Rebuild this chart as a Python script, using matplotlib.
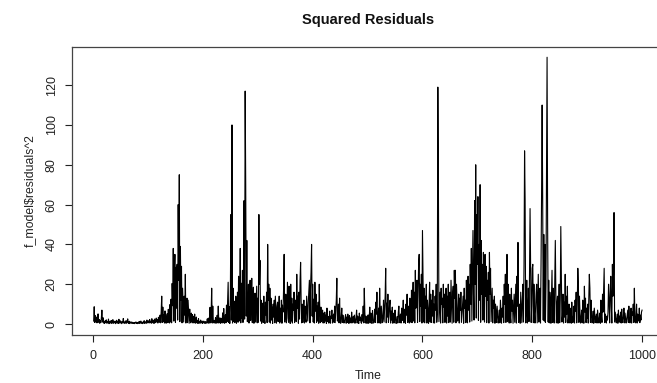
import numpy as np
import matplotlib
matplotlib.use("Agg")
import matplotlib.pyplot as plt

plt.rcParams['font.family'] = ['Liberation Sans', 'DejaVu Sans']

# squared residuals, t = 1..1000, in blocks of 200
sq_001_200 = [
    1.5, 8.7, 0.8, 4.2, 1.1, 3.5, 0.6, 1.2, 5.1, 0.9, 2.3, 0.4, 1.8, 0.7, 2.9, 7.0, 1.0, 3.2, 0.5, 1.4,
    0.3, 1.6, 0.8, 2.1, 0.4, 1.1, 0.6, 2.5, 0.2, 0.9, 1.4, 0.5, 1.8, 0.3, 0.7, 2.2, 0.4, 1.0, 0.6, 1.5,
    0.2, 0.8, 1.9, 0.5, 1.2, 0.3, 2.4, 0.7, 0.4, 1.6, 0.9, 0.2, 1.3, 0.6, 2.8, 0.5, 1.1, 0.3, 0.8, 1.7,
    0.4, 1.0, 2.6, 0.6, 0.3, 1.4, 0.2, 0.7, 1.2, 0.5, 0.3, 0.9, 0.4, 0.6, 0.2, 0.8, 0.5, 1.1, 0.3, 0.6,
    0.2, 0.9, 0.4, 1.3, 0.3, 0.6, 1.5, 0.4, 0.8, 0.2, 1.1, 0.5, 1.7, 0.3, 0.7, 1.2, 0.4, 2.0, 0.6, 0.9,
    1.6, 0.5, 2.3, 0.8, 1.4, 0.4, 2.7, 1.0, 0.6, 1.9, 0.3, 2.5, 1.2, 0.7, 3.0, 1.1, 2.2, 0.5, 3.4, 1.8,
    0.9, 4.5, 0.6, 6.2, 14.0, 0.8, 8.5, 1.2, 4.8, 0.5, 6.6, 1.5, 0.4, 3.8, 5.2, 0.7, 7.4, 1.6, 0.5, 9.8,
    1.0, 12.5, 0.6, 20.4, 9.2, 38.0, 1.5, 25.0, 35.0, 0.8, 28.5, 8.0, 30.0, 2.0, 60.0, 22.0, 75.0, 1.2, 39.0, 12.0,
    29.0, 0.6, 18.0, 9.0, 1.0, 14.0, 4.5, 25.0, 0.5, 8.2, 13.0, 0.7, 12.0, 6.0, 0.4, 7.5, 2.0, 0.6, 5.5, 1.2,
    4.8, 0.5, 3.9, 0.8, 5.0, 0.4, 1.0, 3.5, 0.6, 1.8, 0.3, 2.7, 0.5, 1.3, 0.4, 2.0, 0.7, 1.1, 0.3, 1.5,
]
sq_201_400 = [
    0.6, 1.4, 0.5, 0.3, 1.2, 0.4, 0.8, 2.6, 0.5, 3.0, 0.4, 1.3, 8.4, 0.6, 5.1, 18.0, 0.5, 9.0, 1.2, 0.6,
    1.8, 0.5, 3.2, 0.4, 1.2, 4.4, 0.6, 9.0, 0.5, 1.6, 3.1, 0.4, 2.9, 1.1, 0.5, 5.6, 0.8, 7.8, 0.4, 1.4,
    4.7, 0.6, 9.5, 1.2, 12.0, 21.0, 0.8, 8.8, 0.3, 14.0, 55.0, 2.0, 100.0, 0.5, 18.0, 1.4, 11.5, 0.7, 2.5, 14.0,
    0.4, 5.0, 16.0, 0.9, 24.0, 1.5, 8.0, 38.0, 0.6, 20.5, 3.0, 27.0, 0.8, 18.0, 62.0, 2.5, 117.0, 70.0, 4.0, 42.0,
    1.2, 8.0, 20.0, 0.5, 12.5, 22.0, 1.8, 9.5, 23.0, 0.7, 14.0, 18.5, 0.4, 11.0, 15.5, 1.0, 10.0, 19.0, 0.6, 13.0,
    0.9, 55.0, 20.0, 32.0, 1.5, 12.0, 0.4, 9.0, 10.5, 0.8, 14.0, 2.5, 0.3, 11.0, 4.5, 16.0, 0.7, 40.0, 12.0, 20.0,
    1.0, 18.0, 0.5, 13.0, 2.0, 8.5, 0.3, 10.0, 3.5, 12.0, 0.6, 14.0, 7.0, 0.4, 9.0, 11.0, 1.2, 6.5, 14.0, 0.5,
    8.0, 1.5, 12.0, 0.4, 9.5, 6.0, 18.0, 35.0, 1.0, 4.0, 15.0, 0.6, 3.0, 21.0, 11.0, 0.8, 19.0, 8.5, 0.3, 20.0,
    1.5, 13.0, 0.5, 10.0, 7.0, 16.0, 0.7, 9.0, 12.0, 1.2, 25.0, 8.0, 14.0, 0.4, 16.0, 2.5, 22.0, 31.0, 11.0, 0.6,
    10.0, 0.8, 7.5, 12.0, 0.5, 9.0, 2.5, 0.9, 14.0, 8.0, 1.5, 11.0, 16.0, 22.0, 0.6, 18.0, 26.0, 40.0, 4.0, 20.0,
]
sq_401_600 = [
    1.0, 12.5, 0.5, 21.0, 6.5, 15.0, 0.8, 9.0, 1.5, 11.0, 0.4, 20.0, 6.0, 0.7, 8.5, 1.2, 3.5, 7.0, 0.5, 5.5,
    0.6, 6.0, 1.5, 4.5, 0.3, 8.0, 1.2, 3.8, 0.5, 2.0, 6.5, 0.4, 4.0, 2.8, 7.0, 0.5, 3.2, 5.0, 0.8, 9.0,
    0.7, 6.5, 12.0, 23.0, 1.5, 3.0, 10.0, 0.6, 13.0, 2.5, 0.4, 3.5, 8.0, 0.8, 4.5, 2.2, 0.5, 1.5, 3.0, 4.8,
    0.4, 3.5, 0.8, 5.0, 1.5, 0.3, 4.2, 1.0, 3.0, 0.5, 6.0, 1.4, 0.6, 3.8, 1.0, 4.5, 0.4, 1.6, 3.2, 7.0,
    0.5, 4.0, 1.2, 0.3, 5.5, 1.8, 3.5, 0.8, 0.4, 4.8, 1.5, 9.0, 0.6, 18.0, 6.0, 0.5, 4.0, 1.5, 0.3, 2.8,
    4.6, 0.4, 3.2, 8.5, 0.6, 5.5, 1.4, 0.3, 6.8, 2.2, 0.5, 1.6, 7.5, 0.8, 11.0, 5.0, 16.0, 0.6, 2.0, 8.0,
    0.5, 18.0, 6.0, 0.4, 9.0, 4.5, 0.7, 3.0, 12.0, 1.0, 8.0, 14.0, 28.0, 0.6, 10.5, 3.5, 15.0, 0.8, 4.0, 9.5,
    12.0, 0.5, 6.5, 2.0, 8.5, 0.4, 1.8, 5.5, 0.6, 7.0, 2.4, 0.3, 1.6, 3.8, 0.5, 6.0, 9.0, 0.7, 2.6, 5.0,
    0.5, 8.0, 1.8, 4.5, 12.0, 0.6, 3.0, 7.5, 0.4, 10.0, 4.5, 15.0, 0.8, 3.5, 9.0, 0.5, 13.0, 8.0, 0.9, 17.0,
    0.7, 12.0, 21.0, 1.5, 16.0, 0.6, 27.0, 8.0, 18.0, 22.0, 0.8, 14.0, 30.0, 35.0, 1.2, 20.0, 9.0, 25.0, 0.5, 47.0,
]
sq_601_800 = [
    25.0, 1.0, 18.0, 0.6, 14.0, 8.0, 20.0, 0.5, 12.0, 7.0, 0.4, 9.5, 21.0, 1.0, 15.0, 0.8, 12.0, 4.0, 17.0, 0.6,
    10.0, 0.5, 14.0, 7.0, 20.0, 0.9, 5.0, 119.0, 72.0, 1.2, 8.0, 16.0, 0.5, 18.0, 10.0, 13.0, 0.6, 20.0, 8.5, 15.0,
    0.8, 11.0, 18.0, 0.5, 14.0, 4.0, 20.0, 0.7, 12.0, 16.0, 1.0, 22.0, 10.0, 0.4, 15.0, 19.0, 0.9, 27.0, 13.0, 27.0,
    0.6, 20.0, 11.0, 1.5, 4.0, 15.0, 0.5, 13.0, 7.0, 16.0, 0.8, 5.0, 10.0, 14.0, 0.4, 18.0, 8.0, 12.0, 0.7, 22.0,
    9.0, 0.6, 24.0, 7.0, 20.0, 1.0, 30.0, 10.0, 38.0, 1.5, 26.0, 47.0, 15.0, 2.0, 62.0, 20.0, 80.0, 3.0, 55.0, 30.0,
    64.0, 1.8, 40.0, 12.0, 70.0, 0.9, 42.0, 15.0, 30.0, 2.0, 36.0, 10.0, 1.0, 35.0, 14.0, 29.0, 0.7, 22.0, 12.0, 26.0,
    0.5, 36.0, 15.0, 28.0, 1.2, 9.0, 18.0, 0.6, 12.0, 8.0, 14.0, 0.4, 10.0, 6.0, 0.8, 9.0, 5.0, 0.5, 2.5, 7.0,
    0.6, 12.0, 6.0, 0.4, 8.0, 3.5, 14.0, 0.7, 20.0, 10.0, 25.0, 0.8, 16.0, 35.0, 1.2, 20.0, 6.0, 0.5, 15.0, 4.0,
    0.6, 18.0, 6.5, 12.0, 0.4, 8.0, 15.0, 0.9, 11.0, 20.0, 0.5, 24.0, 9.0, 41.0, 0.8, 6.0, 10.0, 0.4, 16.0, 8.0,
    0.7, 12.0, 20.0, 1.0, 30.0, 87.0, 62.0, 0.6, 8.0, 22.0, 0.5, 6.0, 18.0, 1.2, 25.0, 58.0, 30.0, 0.8, 9.0, 28.0,
]
sq_801_1000 = [
    30.0, 0.7, 20.0, 5.0, 0.5, 8.0, 15.0, 20.0, 0.6, 12.0, 25.0, 1.0, 14.0, 18.0, 0.5, 30.0, 66.0, 110.0, 62.0, 2.0,
    45.0, 1.5, 40.0, 0.8, 20.0, 72.0, 134.0, 50.0, 1.0, 22.0, 0.6, 16.0, 10.0, 0.4, 14.0, 27.0, 0.8, 18.0, 6.0, 0.5,
    20.0, 42.0, 15.0, 0.6, 10.0, 14.0, 0.4, 9.0, 20.0, 0.7, 12.0, 49.0, 27.0, 1.0, 4.0, 15.0, 0.5, 11.0, 3.5, 25.0,
    0.8, 14.0, 5.0, 19.0, 0.5, 3.0, 10.0, 0.6, 8.0, 2.5, 0.4, 11.0, 4.0, 0.7, 3.0, 9.0, 0.5, 12.0, 6.5, 16.0,
    0.6, 10.0, 28.0, 20.0, 0.8, 14.0, 5.0, 0.5, 3.0, 7.0, 0.6, 12.0, 2.5, 0.4, 19.0, 6.0, 13.0, 0.7, 8.0, 3.0,
    10.0, 0.5, 14.0, 25.0, 18.0, 0.8, 12.0, 4.0, 0.6, 3.0, 6.5, 0.4, 8.0, 4.5, 0.7, 3.5, 5.0, 0.5, 7.0, 4.0,
    0.6, 2.0, 5.5, 0.4, 12.0, 4.0, 0.8, 15.0, 6.0, 18.0, 28.0, 0.7, 5.0, 3.0, 0.5, 4.0, 2.0, 6.0, 20.0, 12.0,
    0.6, 15.0, 24.0, 9.0, 0.5, 30.0, 14.0, 25.0, 56.0, 1.0, 6.0, 3.0, 0.6, 2.0, 5.0, 0.4, 7.0, 1.5, 4.0, 0.8,
    6.0, 0.5, 7.5, 2.0, 0.7, 4.0, 8.0, 0.6, 5.5, 3.0, 0.5, 2.2, 4.5, 7.0, 0.8, 9.0, 2.5, 0.6, 3.5, 8.0,
    0.5, 6.0, 4.5, 10.0, 0.8, 18.0, 3.0, 0.6, 4.0, 10.0, 0.5, 5.0, 3.5, 1.5, 8.0, 0.7, 4.5, 2.0, 6.0, 7.0,
]

sq_resid = np.array(sq_001_200 + sq_201_400 + sq_401_600 + sq_601_800 + sq_801_1000)
time = np.arange(1, len(sq_resid) + 1)

x_ticks = [0, 200, 400, 600, 800, 1000]
y_ticks = [0, 20, 40, 60, 80, 100, 120]

W, H = 657, 383
fig = plt.figure(figsize=(W / 100, H / 100), dpi=100)
# plot region in pixels: left 71.7, right 664 (cut off), top 47.3, bottom 334.7
ax = fig.add_axes([71.7 / W, 1 - 334.7 / H, (664 - 71.7) / W, (334.7 - 47.3) / H])

ax.plot(time, sq_resid, color='black', lw=0.8)

# R style 4% range extension
ax.set_xlim(-39, 1040)
ax.set_ylim(-5.35, 139.0)

ax.set_xticks(x_ticks)
ax.set_yticks(y_ticks)
ax.tick_params(axis='both', direction='out', length=5, width=0.8, colors='#222222',
               labelsize=9, labelcolor='#222222')
ax.tick_params(axis='x', pad=6)
ax.tick_params(axis='y', pad=5)
for lab in ax.get_yticklabels():
    lab.set_rotation(90)
    lab.set_va('center')

for sp in ax.spines.values():
    sp.set_color('#444444')
    sp.set_linewidth(0.9)

fig.text(368 / W, 1 - 20 / H, 'Squared Residuals', ha='center', va='center',
         fontsize=10.5, fontweight='bold', color='#111111')
fig.text(30 / W, 1 - 191 / H, 'f_model$residuals^2', ha='center', va='center',
         rotation=90, fontsize=8.8, color='#222222')
fig.text(368 / W, 1 - 376 / H, 'Time', ha='center', va='center',
         fontsize=8.8, color='#222222')

fig.savefig('out.png', dpi=100)
